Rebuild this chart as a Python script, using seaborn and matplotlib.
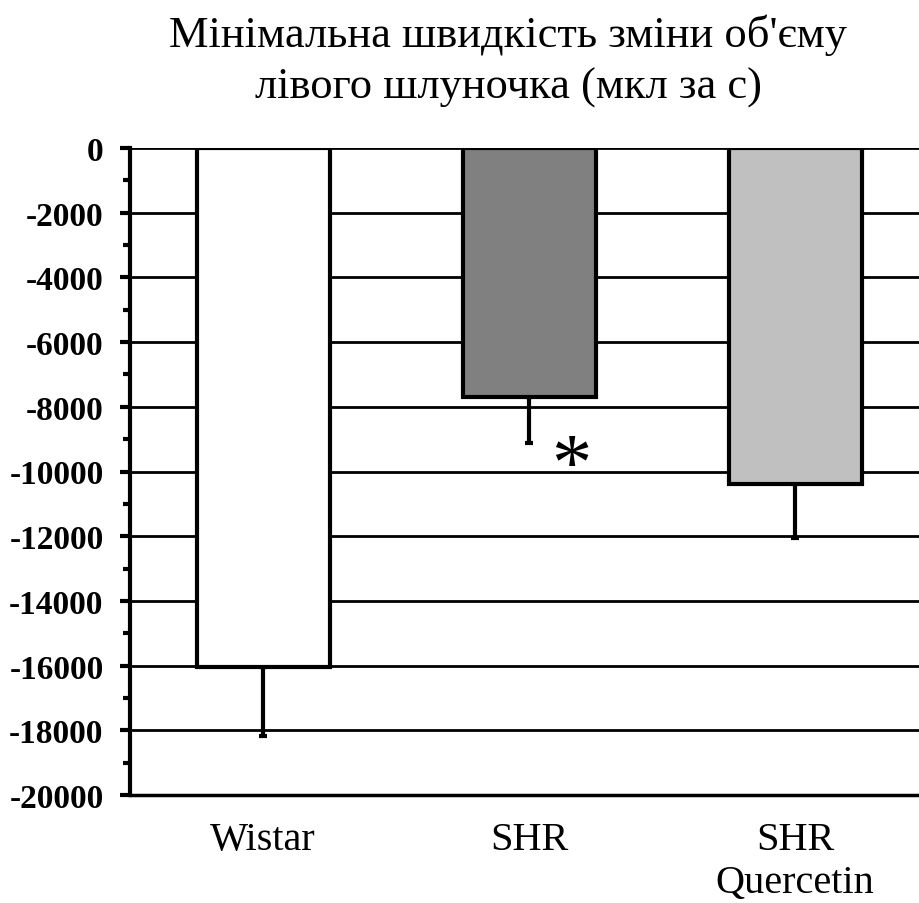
import pandas as pd
import seaborn as sns
import matplotlib.pyplot as plt
from matplotlib.ticker import MultipleLocator

groups = ['Wistar', 'SHR', 'SHR\nQuercetin']
values = [-16050, -7700, -10390]
errors = [2130, 1420, 1670]
bar_colors = ['#ffffff', '#808080', '#c0c0c0']
title = "Мінімальна швидкість зміни об'єму\nлівого шлуночка (мкл за с)"

df = pd.DataFrame({'group': groups, 'value': values})

sns.set_style('white')
plt.rcParams['font.family'] = ['Liberation Serif', 'DejaVu Serif']
plt.rcParams['axes.unicode_minus'] = False
plt.rcParams['text.color'] = 'black'
plt.rcParams['xtick.color'] = 'black'
plt.rcParams['ytick.color'] = 'black'

fig = plt.figure(figsize=(9.19, 9.04), dpi=100)
ax = fig.add_axes([130 / 919, 108 / 904, 798 / 919, 647 / 904])

sns.barplot(data=df, x='group', y='value', hue='group', palette=bar_colors,
            width=0.5, edgecolor='black', linewidth=3, legend=False, ax=ax, zorder=3)

# only the lower half of the error bar is shown
ax.errorbar(range(len(groups)), values, yerr=[errors, [0] * len(errors)], fmt='none',
            ecolor='black', elinewidth=3, capsize=3, capthick=3, zorder=2)

ax.text(1.158, -9900, '*', fontsize=58, ha='center', va='center')

ax.set_ylim(-20000, 0)
ax.set_xlim(-0.5, 2.5)
ax.yaxis.set_major_locator(MultipleLocator(2000))
ax.yaxis.set_minor_locator(MultipleLocator(1000))
ax.yaxis.grid(True, color='black', linewidth=2)
ax.set_axisbelow(True)
ax.tick_params(axis='y', which='major', left=True, length=7, width=3, labelsize=24, pad=12,
               labelcolor='black')
ax.tick_params(axis='y', which='minor', left=True, length=5, width=3)
ax.tick_params(axis='x', bottom=False, labelsize=29, pad=15, labelcolor='black')
for lbl in ax.get_yticklabels():
    lbl.set_fontweight('bold')
for lbl in ax.get_xticklabels():
    lbl.set_verticalalignment('top')
    lbl.set_linespacing(1.22)

for s in ['top', 'right']:
    ax.spines[s].set_visible(False)
ax.spines['left'].set_linewidth(3)
ax.spines['bottom'].set_linewidth(2.5)
ax.spines['left'].set_color('black')
ax.spines['bottom'].set_color('black')

ax.set_xlabel('')
ax.set_ylabel('')
fig.text(0.553, 0.984, title, ha='center', va='top', fontsize=32, linespacing=1.38)

fig.savefig('out.png', dpi=100)
